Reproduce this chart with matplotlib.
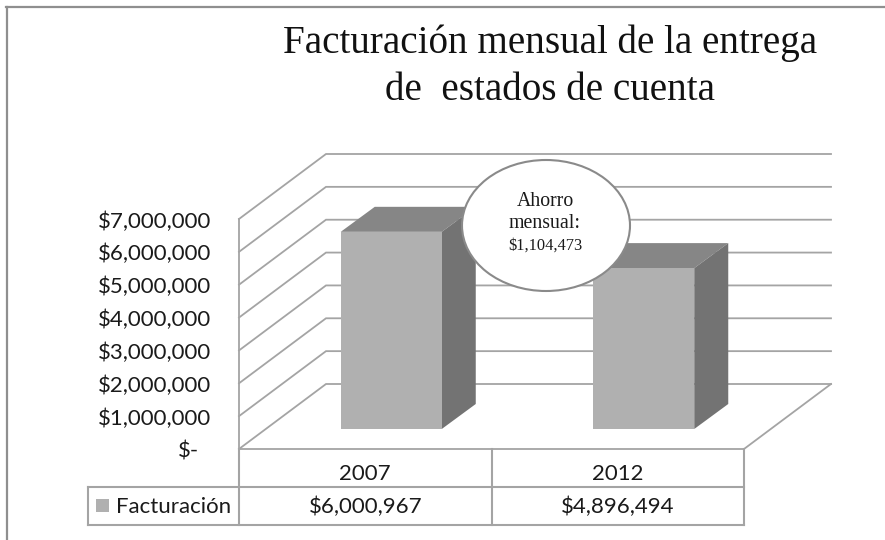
"""Facturación mensual: columnas 3D falsas con tabla de datos debajo."""
import matplotlib
matplotlib.use("Agg")
import matplotlib.pyplot as plt
from matplotlib.lines import Line2D
from matplotlib.patches import Ellipse, Polygon, Rectangle
from matplotlib.transforms import Affine2D, blended_transform_factory

years = ["2007", "2012"]
facturacion = [6000967, 4896494]
facturacion_txt = ["$6,000,967", "$4,896,494"]
ticks = [0, 1000000, 2000000, 3000000, 4000000, 5000000, 6000000, 7000000]
tick_labels = ["$-", "$1,000,000", "$2,000,000", "$3,000,000", "$4,000,000",
               "$5,000,000", "$6,000,000", "$7,000,000"]
title_lines = ["Facturación mensual de la entrega", "de  estados de cuenta"]
nota = ["Ahorro", "mensual:", "$1,104,473"]

W, H = 885, 540
GRID = "#a4a4a4"
BORDER = "#8f8f8f"
TXT = "#1a1a1a"
LABEL_FONT = ["Lato", "DejaVu Sans"]
SERIF = ["Liberation Serif", "DejaVu Serif"]

fig = plt.figure(figsize=(W / 100, H / 100), dpi=100)
# coordenadas en pixeles, origen arriba a la izquierda
px = Affine2D().scale(1, -1).translate(0, H)

X0, X1, Y0, Y7 = 239, 744, 449, 219
ax = fig.add_axes([X0 / W, 1 - Y0 / H, (X1 - X0) / W, (Y0 - Y7) / H])
ax.set_xlim(0, len(years))
ax.set_ylim(0, ticks[-1])
ax.axis("off")

ux = (X1 - X0) / len(years)          # px por categoria
uy = (Y0 - Y7) / ticks[-1]           # px por peso
wall_dx, wall_dy = 87 / ux, 65 / uy  # profundidad del piso
gap_dx, gap_dy = 26 / ux, 20 / uy    # base de la columna sobre el piso
bar_dx, bar_dy = 34 / ux, 25 / uy    # profundidad de la columna
bar_w = 0.4


def pline(xs, ys, color=GRID, lw=1.2, z=3):
    fig.add_artist(Line2D(xs, ys, transform=px, color=color, lw=lw, zorder=z))


# paredes y piso
for v in ticks:
    ax.plot([0, wall_dx, len(years) + wall_dx], [v, v + wall_dy, v + wall_dy],
            color=GRID, lw=1.3, clip_on=False, zorder=1, solid_joinstyle="miter")
ax.plot([0, 0], [0, ticks[-1]], color=GRID, lw=1.3, clip_on=False, zorder=1)
ax.plot([0, len(years), len(years) + wall_dx], [0, 0, wall_dy], color=GRID, lw=1.3,
        clip_on=False, zorder=1)

# columnas
for i, v in enumerate(facturacion):
    x0 = i + 0.5 - bar_w / 2 + gap_dx
    x1 = x0 + bar_w
    b, t = gap_dy, gap_dy + v
    ax.add_patch(Polygon([(x0, t), (x1, t), (x1 + bar_dx, t + bar_dy), (x0 + bar_dx, t + bar_dy)],
                         fc="#868686", ec="none", clip_on=False, zorder=2))
    ax.add_patch(Polygon([(x1, b), (x1 + bar_dx, b + bar_dy), (x1 + bar_dx, t + bar_dy), (x1, t)],
                         fc="#737373", ec="none", clip_on=False, zorder=2))
    ax.add_patch(Rectangle((x0, b), bar_w, v, fc="#b0b0b0", ec="none", clip_on=False, zorder=3))

# etiquetas del eje
lab_tr = blended_transform_factory(px, ax.transData)
for v, s in zip(ticks, tick_labels):
    ax.text(211 if v else 199, v - 2.5 / uy, s, transform=lab_tr, ha="right", va="center",
            fontsize=16, color=TXT, family=LABEL_FONT, clip_on=False)

# marco exterior (solo arriba e izquierda se ven)
pline([6.5, 6.5], [7, H], color=BORDER, lw=1.6)
pline([6, W], [7, 7], color=BORDER, lw=1.6)

# tabla de datos
R0, R1, R2, XM, XL = 449, 487, 525, 492, 88
pline([XL, X1], [R1, R1], lw=1.5)
pline([XL, X1], [R2, R2], lw=1.5)
pline([XL, XL], [R1, R2], lw=1.5)
pline([X0, X0], [R0, R2], lw=1.5)
pline([XM, XM], [R0, R2], lw=1.5)
pline([X1, X1], [R0, R2], lw=1.5)
fig.add_artist(Rectangle((96, 499), 13, 13, transform=px, fc="#b0b0b0", ec="none"))
fig.text(116 / W, 1 - 507 / H, "Facturación", ha="left", va="center", fontsize=16,
         color=TXT, family=LABEL_FONT)
for i, (y, s) in enumerate(zip(years, facturacion_txt)):
    cx = X0 + (i + 0.5) * ux
    fig.text(cx / W, 1 - 474 / H, y, ha="center", va="center", fontsize=16,
             color=TXT, family=LABEL_FONT)
    fig.text(cx / W, 1 - 507 / H, s, ha="center", va="center", fontsize=16,
             color=TXT, family=LABEL_FONT)

# titulo
for s, yy in zip(title_lines, [53.5, 99.5]):
    fig.text(550 / W, 1 - yy / H, s, ha="center", va="baseline", fontsize=28.2, color="#111111",
             family=SERIF)

# globo de ahorro
fig.add_artist(Ellipse((546, 225.5), 168, 131, transform=px, fc="white", ec="#8a8a8a",
                       lw=1.5, zorder=5))
for s, yy, fs in zip(nota, [202, 224, 246], [14.3, 14.3, 11.8]):
    fig.text(545 / W, 1 - yy / H, s, ha="center", va="center", fontsize=fs, color=TXT,
             family=SERIF, zorder=6)

fig.savefig("out.png", dpi=100)
plt.close(fig)
